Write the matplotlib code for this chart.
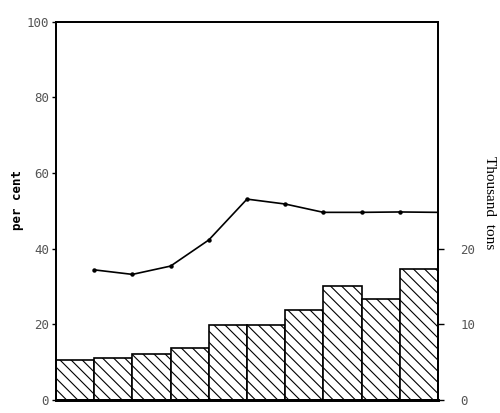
import matplotlib
matplotlib.use("Agg")
import matplotlib.pyplot as plt
import numpy as np

# Data
tons = [5.3, 5.5, 6.05, 6.9, 9.9, 9.9, 11.9, 15.0, 13.3, 17.3]       # thousand tons (bars)
percent = [34.4, 33.2, 35.4, 42.3, 53.1, 51.8, 49.6, 49.6, 49.7, 49.6]  # per cent (line)
left_ticks = [0, 20, 40, 60, 80, 100]
right_ticks = [0, 10, 20]

mono = "DejaVu Sans Mono"
plt.rcParams["hatch.linewidth"] = 0.8

fig = plt.figure(figsize=(5.0, 4.13), dpi=100)
ax = fig.add_axes([0.112, 0.0315, 0.764, 0.916])
ax2 = ax.twinx()

n = len(tons)
x = np.arange(n)
ax2.bar(x, tons, width=1.0, align="edge", facecolor="white", edgecolor="black",
        linewidth=1.2, hatch="\\\\\\")
ax2.set_ylim(0, 50)
ax2.set_yticks(right_ticks)
ax2.set_yticklabels([str(t) for t in right_ticks], family=mono, fontsize=9, color="#555555")
ax2.tick_params(axis="y", direction="out", length=4, width=1, pad=12)

# line at bar boundaries
xl = np.arange(1, n + 1)
ax.plot(xl[:-1], percent[:-1], color="black", linewidth=1.2, marker="o", markersize=2.2)
ax.plot(xl[-2:], percent[-2:], color="black", linewidth=1.2)
ax.set_zorder(ax2.get_zorder() + 1)
ax.patch.set_visible(False)

ax.set_xlim(0, n)
ax.set_ylim(0, 100)
ax.set_yticks(left_ticks)
ax.set_yticklabels([str(t) for t in left_ticks], family=mono, fontsize=9, color="#555555")
ax.tick_params(axis="y", direction="out", length=3, width=1, pad=2)
ax.set_xticks([])
ax2.set_xticks([])

for a in (ax, ax2):
    for s in a.spines.values():
        s.set_color("black")
    a.spines["left"].set_linewidth(1.3)
    a.spines["bottom"].set_linewidth(2.0)
    a.spines["top"].set_linewidth(1.3)
    a.spines["right"].set_linewidth(1.3)

fig.text(0.036, 0.515, "per cent", rotation=90, ha="center", va="center",
         family=mono, fontsize=9, fontweight="bold")
fig.text(0.978, 0.51, "Thousand  tons", rotation=-90, ha="center", va="center",
         family="Liberation Serif", fontsize=11)

fig.savefig("out.png", dpi=100)
